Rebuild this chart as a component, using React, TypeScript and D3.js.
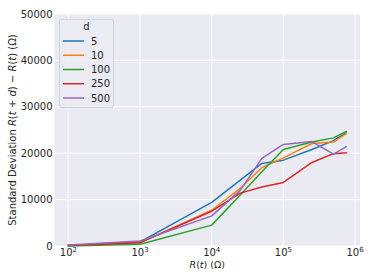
import React from "react";
import * as d3 from "d3";

const xValues = [100, 1000, 10000, 25000, 50000, 100000, 250000, 500000, 750000];
const seriesNames = ["5", "10", "100", "250", "500"];
const d5 = [100, 900, 9400, 14200, 17800, 18500, 20800, 22700, 24400];
const d10 = [100, 720, 7700, 12400, 16900, 19000, 22100, 22400, 24200];
const d100 = [0, 370, 4500, 11000, 16000, 20800, 22400, 23300, 24700];
const d250 = [100, 720, 7500, 11400, 12700, 13700, 18000, 19900, 20100];
const d500 = [200, 1070, 6500, 12000, 18900, 21900, 22500, 19800, 21400];
const seriesValues = [d5, d10, d100, d250, d500];
const colors = ["#1f77b4", "#ff7f0e", "#2ca02c", "#d62728", "#9467bd"];
const yTicks = [0, 10000, 20000, 30000, 40000, 50000];
const xTickExps = [2, 3, 4, 5, 6];

const W = 374, H = 280;
const L = 54.5, R = 360, T = 14, B = 246;
const FONT = "DejaVu Sans";
const TXT = "#262626";

export default function App() {
  const x = d3.scaleLog().domain([Math.pow(10, 1.806), Math.pow(10, 6.069)]).range([L, R]);
  const y = d3.scaleLinear().domain([0, 50000]).range([B, T]);
  const line = d3.line<number>().x((_, i) => x(xValues[i])).y((v) => y(v));

  return (
    <svg width={W} height={H} style={{ position: "absolute", left: 0, top: 0 }} fontFamily={FONT}>
      <rect x={0} y={0} width={W} height={H} fill="#ffffff" />
      <rect x={L} y={T} width={R - L} height={B - T} fill="#EAEAF2" />
      {yTicks.map((t) => (
        <line key={"gy" + t} x1={L} x2={R} y1={y(t)} y2={y(t)} stroke="#ffffff" strokeWidth={1} />
      ))}
      {xTickExps.map((e) => (
        <line key={"gx" + e} x1={x(Math.pow(10, e))} x2={x(Math.pow(10, e))} y1={T} y2={B} stroke="#ffffff" strokeWidth={1} />
      ))}
      {seriesValues.map((vals, i) => (
        <path key={"s" + i} d={line(vals) || ""} fill="none" stroke={colors[i]} strokeWidth={1.5} strokeLinejoin="round" strokeLinecap="square" />
      ))}
      {yTicks.map((t) => (
        <text key={"ty" + t} x={L - 2} y={y(t)} dy="0.35em" textAnchor="end" fontSize={10} fill={TXT}>
          {t}
        </text>
      ))}
      {xTickExps.map((e) => (
        <text key={"tx" + e} x={x(Math.pow(10, e))} y={256} textAnchor="middle" fontSize={10} fill={TXT}>
          10<tspan fontSize={7} dy={-4}>{e}</tspan>
        </text>
      ))}
      <text x={(L + R) / 2} y={267.5} textAnchor="middle" fontSize={9.5} fill={TXT}>
        <tspan fontStyle="italic">R</tspan>(<tspan fontStyle="italic">t</tspan>) (Ω)
      </text>
      <text transform={`translate(15.5,${(T + B) / 2}) rotate(-90)`} textAnchor="middle" fontSize={10} fill={TXT}>
        Standard Deviation <tspan fontStyle="italic">R</tspan>(<tspan fontStyle="italic">t</tspan> + <tspan fontStyle="italic">d</tspan>) − <tspan fontStyle="italic">R</tspan>(<tspan fontStyle="italic">t</tspan>) (Ω)
      </text>
      <g>
        <rect x={59.5} y={19.5} width={54} height={88} rx={2.5} fill="#EBEBF3" fillOpacity={0.9} stroke="#d2d2d8" strokeWidth={1} />
        <text x={86.5} y={26.7} dy="0.35em" textAnchor="middle" fontSize={10} fill={TXT}>d</text>
        {seriesNames.map((n, i) => (
          <g key={"lg" + n}>
            <line x1={63} x2={84} y1={41 + i * 14.25} y2={41 + i * 14.25} stroke={colors[i]} strokeWidth={1.5} />
            <text x={91} y={41 + i * 14.25} dy="0.35em" fontSize={10} fill={TXT}>{n}</text>
          </g>
        ))}
      </g>
    </svg>
  );
}
